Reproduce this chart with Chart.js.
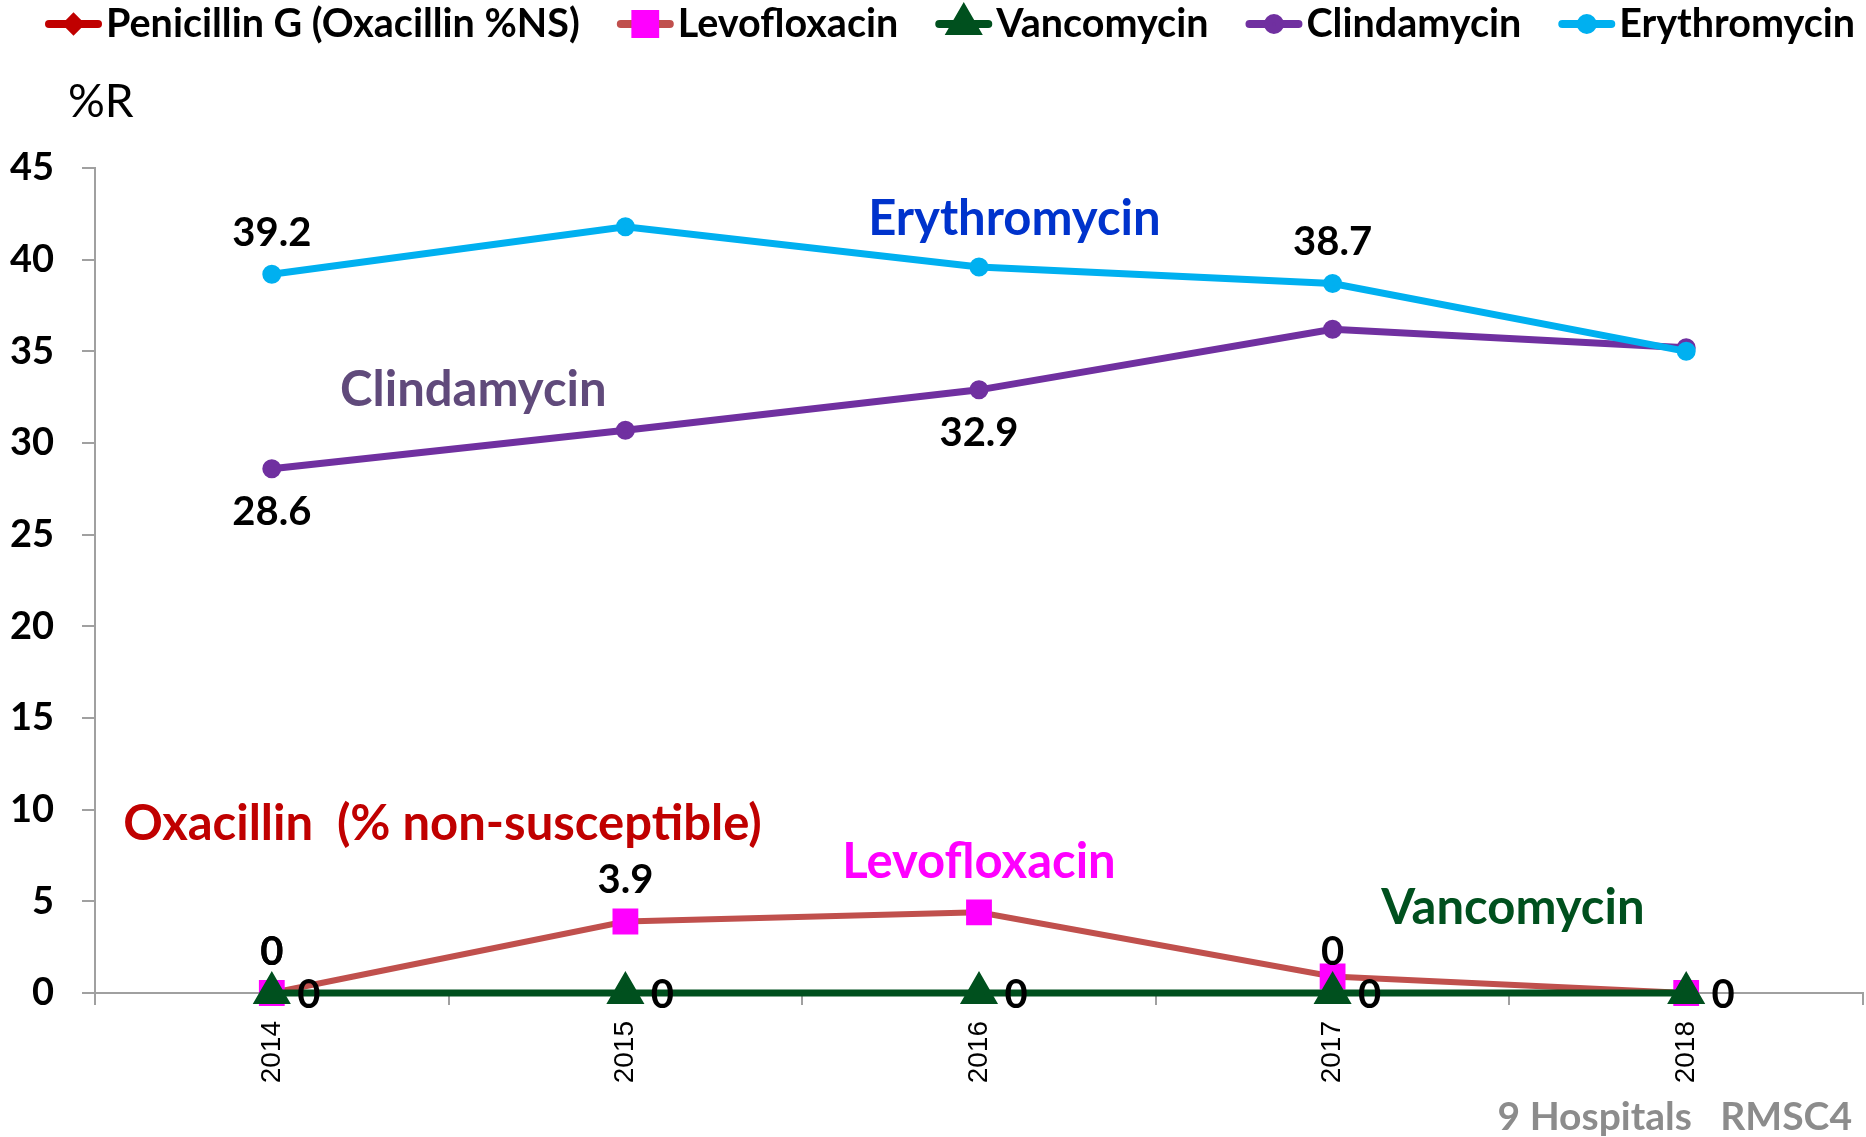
<!DOCTYPE html>
<html>
<head>
<meta charset="utf-8">
<script src="https://cdn.jsdelivr.net/npm/chart.js@4.4.0/dist/chart.umd.min.js"></script>
<style>
  html, body { margin: 0; padding: 0; background: #fff; }
  #wrap { width: 1866px; height: 1137px; }
</style>
</head>
<body>
<div id="wrap"><canvas id="graph" width="1866" height="1137"></canvas></div>
<script>
'use strict';

var SANS = 'Lato, "Open Sans", sans-serif';

// data
var years = ['2014', '2015', '2016', '2017', '2018'];
var yTicks = [0, 5, 10, 15, 20, 25, 30, 35, 40, 45];

var penicillin   = [0, null, null, 0, null];
var levofloxacin = [0, 3.9, 4.4, 0.9, 0];
var vancomycin   = [0, 0, 0, 0, 0];
var clindamycin  = [28.6, 30.7, 32.9, 36.2, 35.2];
var erythromycin = [39.2, 41.8, 39.6, 38.7, 35.0];

// value labels as printed ('' = none)
var penicillinLabels   = ['0', '', '', '0', ''];
var levofloxacinLabels = ['0', '3.9', '', '', ''];
var vancomycinLabels   = ['0', '0', '0', '0', '0'];
var clindamycinLabels  = ['28.6', '', '32.9', '', ''];
var erythromycinLabels = ['39.2', '', '', '38.7', ''];

var AXIS = '#A0A0A0';

// free text on the plot, placed in data units (x = category index)
var notes = [
    { text: 'Erythromycin', color: '#0033CC', x: 2.10, y: 42.2, align: 'center' },
    { text: 'Clindamycin', color: '#604A7B', x: 0.57, y: 32.9, align: 'center' },
    { text: 'Oxacillin  (% non-susceptible)', color: '#C00000', x: -0.42, y: 9.2, align: 'left' },
    { text: 'Levofloxacin', color: '#FF00FF', x: 2.0, y: 7.15, align: 'center' },
    { text: 'Vancomycin', color: '#00501E', x: 3.51, y: 4.6, align: 'center' }
];

var valueLabels = {
    id: 'valueLabels',
    afterDatasetsDraw: function (chart) {
        var ctx = chart.ctx;
        ctx.save();
        ctx.font = 'bold 40px ' + SANS;
        ctx.fillStyle = '#000';
        ctx.textAlign = 'center';
        ctx.textBaseline = 'middle';
        chart.data.datasets.forEach(function (ds, i) {
            var meta = chart.getDatasetMeta(i);
            meta.data.forEach(function (pt, j) {
                var txt = ds.valueLabels[j];
                if (!txt || ds.data[j] === null) return;
                var x = pt.x, y = pt.y;
                if (ds.labelPos === 'above') y -= 41;
                else if (ds.labelPos === 'below') y += 43;
                else { x += 37; y += 2; }
                ctx.fillText(txt, x, y);
            });
        });
        ctx.restore();
    }
};

var notesPlugin = {
    id: 'notes',
    afterDraw: function (chart) {
        var ctx = chart.ctx, xs = chart.scales.x, ys = chart.scales.y;
        ctx.save();
        ctx.textBaseline = 'middle';
        ctx.font = 'bold 49px ' + SANS;
        notes.forEach(function (n) {
            ctx.fillStyle = n.color;
            ctx.textAlign = n.align;
            ctx.fillText(n.text, xs.getPixelForValue(n.x), ys.getPixelForValue(n.y));
        });
        // unit label
        ctx.fillStyle = '#000';
        ctx.textAlign = 'left';
        ctx.font = '46px ' + SANS;
        ctx.fillText('%R', 68, 102);
        // source
        ctx.fillStyle = '#8C8C8C';
        ctx.textAlign = 'right';
        ctx.font = 'bold 39px ' + SANS;
        ctx.fillText('9 Hospitals   RMSC4', 1852, 1117);
        ctx.restore();
    }
};

// Excel style legend: line + marker, then the name
var legendPlugin = {
    id: 'xlLegend',
    afterDraw: function (chart) {
        var ctx = chart.ctx;
        var x = 45, y = 24, len = 57;
        ctx.save();
        ctx.font = 'bold 39.5px ' + SANS;
        ctx.textBaseline = 'middle';
        ctx.textAlign = 'left';
        chart.data.datasets.forEach(function (ds) {
            ctx.strokeStyle = ds.borderColor;
            ctx.lineWidth = 8;
            ctx.lineCap = 'round';
            ctx.beginPath();
            ctx.moveTo(x + 4, y);
            ctx.lineTo(x + len - 4, y);
            ctx.stroke();
            ctx.fillStyle = ds.pointBackgroundColor;
            ctx.strokeStyle = ds.pointBorderColor;
            Chart.helpers.drawPoint(ctx, {
                pointStyle: ds.pointStyle,
                radius: ds.legendRadius,
                rotation: 0,
                borderWidth: 1
            }, x + len / 2, y);
            x += len + 4;
            ctx.fillStyle = '#000';
            ctx.fillText(ds.label, x, y);
            x += ctx.measureText(ds.label).width + 37;
        });
        ctx.restore();
    }
};

new Chart('graph', {
    type: 'line',
    data: {
        labels: years,
        datasets: [{
            label: 'Penicillin G (Oxacillin %NS)',
            data: penicillin,
            valueLabels: penicillinLabels,
            labelPos: 'above',
            order: 5,
            borderColor: '#C00000',
            borderWidth: 7,
            pointStyle: 'rectRot',
            pointRadius: 6,
            pointBackgroundColor: '#C00000',
            pointBorderColor: '#C00000',
            legendRadius: 6
        }, {
            label: 'Levofloxacin',
            data: levofloxacin,
            valueLabels: levofloxacinLabels,
            labelPos: 'above',
            order: 4,
            borderColor: '#C0504D',
            borderWidth: 6,
            pointStyle: 'rect',
            pointRadius: 14,
            pointBackgroundColor: '#FF00FF',
            pointBorderColor: '#FF00FF',
            legendRadius: 14
        }, {
            label: 'Vancomycin',
            data: vancomycin,
            valueLabels: vancomycinLabels,
            labelPos: 'right',
            order: 3,
            borderColor: '#00501E',
            borderWidth: 7,
            pointStyle: 'triangle',
            pointRadius: 15,
            pointBackgroundColor: '#00501E',
            pointBorderColor: '#00501E',
            legendRadius: 14
        }, {
            label: 'Clindamycin',
            data: clindamycin,
            valueLabels: clindamycinLabels,
            labelPos: 'below',
            order: 2,
            borderColor: '#7030A0',
            borderWidth: 7,
            pointStyle: 'circle',
            pointRadius: 6,
            pointBackgroundColor: '#7030A0',
            pointBorderColor: '#7030A0',
            legendRadius: 6
        }, {
            label: 'Erythromycin',
            data: erythromycin,
            valueLabels: erythromycinLabels,
            labelPos: 'above',
            order: 1,
            borderColor: '#00B0F0',
            borderWidth: 7,
            pointStyle: 'circle',
            pointRadius: 6,
            pointBackgroundColor: '#00B0F0',
            pointBorderColor: '#00B0F0',
            legendRadius: 6
        }]
    },
    options: {
        responsive: false,
        animation: false,
        devicePixelRatio: 1,
        clip: false,
        elements: { line: { tension: 0 } },
        layout: { autoPadding: false, padding: { top: 168, right: 3, left: 0, bottom: 0 } },
        plugins: {
            legend: { display: false },
            tooltip: { enabled: false }
        },
        scales: {
            x: {
                offset: true,
                afterFit: function (s) { s.height = 144; s.paddingLeft = 0; s.paddingRight = 0; },
                border: { color: AXIS, width: 2 },
                grid: { offset: true, drawOnChartArea: false, tickLength: 12, color: AXIS, lineWidth: 2 },
                ticks: {
                    minRotation: 90, maxRotation: 90, padding: 16, color: '#000',
                    font: { family: '"Liberation Sans", Arial, sans-serif', size: 28 }
                }
            },
            y: {
                min: 0,
                max: 45,
                afterBuildTicks: function (s) { s.ticks = yTicks.map(function (v) { return { value: v }; }); },
                afterFit: function (s) { s.width = 95; s.paddingTop = 0; s.paddingBottom = 0; },
                border: { color: AXIS, width: 2 },
                grid: { drawOnChartArea: false, tickLength: 13, color: AXIS, lineWidth: 2 },
                ticks: { padding: 28, color: '#000', font: { family: SANS, size: 38, weight: 'bold' } }
            }
        }
    },
    plugins: [valueLabels, notesPlugin, legendPlugin]
});
</script>
</body>
</html>
